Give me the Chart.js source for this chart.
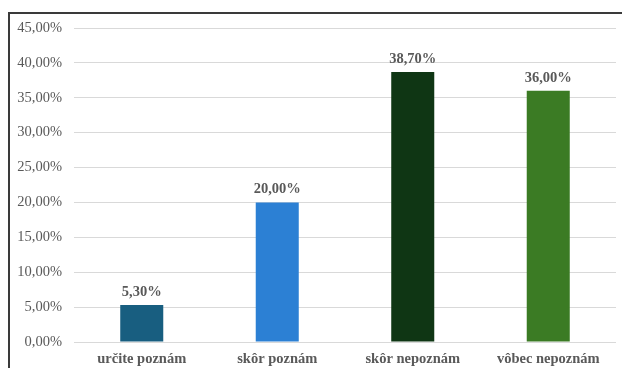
<!DOCTYPE html>
<html>
<head>
<meta charset="utf-8">
<script src="https://cdn.jsdelivr.net/npm/chart.js@4"></script>
<style>
  html, body { margin: 0; padding: 0; background: #fff; overflow: hidden; }
  #wrap { position: relative; width: 622px; height: 368px; overflow: hidden; }
  #frame { position: absolute; left: 8px; top: 12px; width: 700px; height: 420px;
           border: 2px solid #3a3a3a; box-sizing: border-box; }
  #c { position: absolute; left: 0; top: 0; }
</style>
</head>
<body>
<div id="wrap">
  <div id="frame"></div>
  <canvas id="c" width="622" height="368"></canvas>
</div>
<script>
const categories = ['určite poznám', 'skôr poznám', 'skôr nepoznám', 'vôbec nepoznám'];
const shares = [5.3, 20.0, 38.7, 36.0];
const barColors = ['#185e80', '#2c80d4', '#0f3614', '#3b7b24'];
const yTicks = [0, 5, 10, 15, 20, 25, 30, 35, 40, 45];

const fmt = v => v.toFixed(2).replace('.', ',') + '%';
const FONT = '"Liberation Serif", "Times New Roman", serif';

const valueLabels = {
  id: 'valueLabels',
  afterDatasetsDraw(chart) {
    const ctx = chart.ctx;
    const meta = chart.getDatasetMeta(0);
    ctx.save();
    ctx.font = 'bold 14.5px ' + FONT;
    ctx.fillStyle = '#595959';
    ctx.textAlign = 'center';
    ctx.textBaseline = 'middle';
    meta.data.forEach((bar, i) => {
      ctx.fillText(fmt(shares[i]), bar.x, bar.y - 13);
    });
    ctx.restore();
  }
};

new Chart(document.getElementById('c'), {
  type: 'bar',
  data: {
    labels: categories,
    datasets: [{
      data: shares,
      backgroundColor: barColors,
      barPercentage: 0.635,
      categoryPercentage: 0.5
    }]
  },
  options: {
    responsive: false,
    animation: false,
    layout: { padding: { top: 28, right: 6, bottom: 0, left: 0 } },
    plugins: { legend: { display: false }, tooltip: { enabled: false } },
    scales: {
      x: {
        grid: { display: false },
        border: { display: false },
        ticks: { color: '#595959', font: { family: FONT, size: 14.5, weight: 'bold' }, padding: 1 },
        afterFit(scale) { scale.height = 26; }
      },
      y: {
        min: 0,
        max: 45,
        afterBuildTicks(scale) { scale.ticks = yTicks.map(v => ({ value: v })); },
        grid: { color: '#d9d9d9', lineWidth: 1, drawTicks: false },
        border: { display: false },
        ticks: {
          color: '#595959',
          font: { family: FONT, size: 14.5 },
          padding: 12,
          callback: v => fmt(v)
        },
        afterFit(scale) { scale.width = 74; }
      }
    }
  },
  plugins: [valueLabels]
});
</script>
</body>
</html>
